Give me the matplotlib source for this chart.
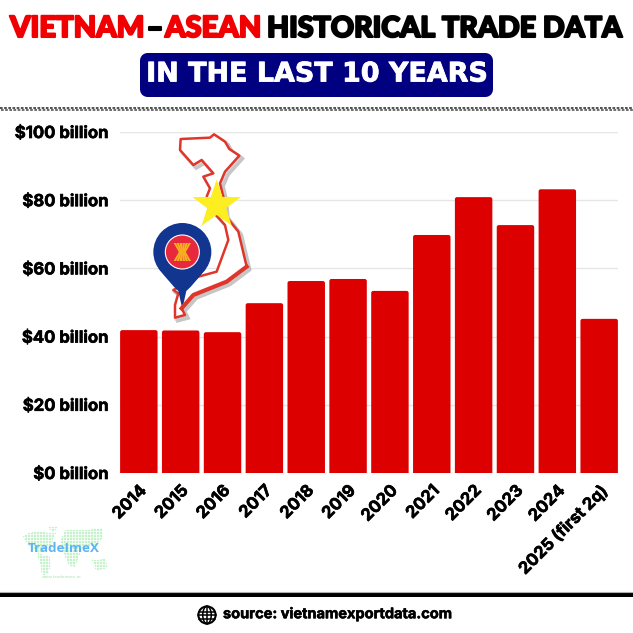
import numpy as np
import matplotlib
matplotlib.use("Agg")
import matplotlib.pyplot as plt
import matplotlib.patheffects as pe
from matplotlib.patches import Circle, Ellipse, FancyBboxPatch, PathPatch, Polygon, Rectangle
from matplotlib.path import Path

years = ["2014", "2015", "2016", "2017", "2018", "2019", "2020", "2021", "2022", "2023", "2024", "2025 (first 2q)"]
trade_billion = [41.9, 41.8, 41.3, 49.8, 56.3, 56.9, 53.4, 69.8, 80.9, 72.7, 83.2, 45.2]
y_ticks = [0, 20, 40, 60, 80, 100]
y_labels = ["$0 billion", "$20 billion", "$40 billion", "$60 billion", "$80 billion", "$100 billion"]

RED = "#dd0000"
W = H = 633
LABEL_FONT = ["Inter", "Lato", "DejaVu Sans"]
TITLE_FONT = ["Lato", "DejaVu Sans"]

fig = plt.figure(figsize=(6.33, 6.33), dpi=100, facecolor="white")

bg = fig.add_axes([0, 0, 1, 1], zorder=0)
bg.set_xlim(0, W); bg.set_ylim(H, 0); bg.axis("off")
top = fig.add_axes([0, 0, 1, 1], zorder=3)
top.set_xlim(0, W); top.set_ylim(H, 0); top.axis("off"); top.patch.set_alpha(0)

# chart
ax = fig.add_axes([120 / W, 1 - 473 / H, 498 / W, 341 / H], zorder=1)
ax.patch.set_alpha(0)
xpos = np.arange(len(years))
bar_w = 0.895
for xi, val in zip(xpos, trade_billion):
    ax.add_patch(FancyBboxPatch((xi - bar_w / 2, -3), bar_w, val + 3,
                                boxstyle="round,pad=0,rounding_size=0.05", mutation_aspect=12.3,
                                fc=RED, ec="none", zorder=2))
ax.set_xlim(-0.45, len(years) - 0.55)
ax.set_ylim(0, 100)
lab_fx = [pe.withStroke(linewidth=0.45, foreground="black")]
ax.set_yticks(y_ticks, y_labels, fontsize=12, fontweight="bold", family=LABEL_FONT)
ax.set_xticks(xpos, years, rotation=45, ha="right", rotation_mode="anchor",
              fontsize=12, fontweight="bold", family=LABEL_FONT)
for t in ax.get_xticklabels() + ax.get_yticklabels():
    t.set_path_effects(lab_fx)
ax.tick_params(axis="y", length=0, pad=8.6)
ax.tick_params(axis="x", length=0, pad=7)
ax.grid(axis="y", color="#e6e6e6", lw=1, zorder=0)
for s in ax.spines.values():
    s.set_visible(False)

# title
title_fx = [pe.withStroke(linewidth=1.5, foreground="black")]
red_fx = [pe.withStroke(linewidth=1.5, foreground="#f00000")]
rk = dict(fontsize=21, fontweight="black", family=TITLE_FONT, va="center", ha="left")
bk = dict(fontsize=20.6, fontweight="black", family=TITLE_FONT, va="center", ha="left")
bg.text(10, 29, "VIETNAM", color="#f00000", path_effects=red_fx, **rk)
bg.text(147, 29, "–", color="black", path_effects=title_fx, **bk)
bg.text(165, 29, "ASEAN", color="#f00000", path_effects=red_fx, **rk)
bg.text(267, 29, "HISTORICAL TRADE DATA", color="black", path_effects=title_fx, **bk)

# banner
bg.add_patch(FancyBboxPatch((144, 57), 345, 36, boxstyle="round,pad=0,rounding_size=4",
                            fc="#000080", ec="#000080", lw=5.76, joinstyle="round"))
bg.text(316.5, 74.5, "IN THE LAST 10 YEARS", color="white", fontsize=19.4, fontweight="bold",
        family="DejaVu Sans", ha="center", va="center",
        path_effects=[pe.withStroke(linewidth=0.6, foreground="white")])

# dashed rule
bg.plot([0, W], [108, 108], color="#333333", lw=1.2, dashes=(1.6, 0.9))
bg.plot([0.9, W], [110, 110], color="#555555", lw=1.2, dashes=(1.6, 0.9))

# footer
bg.add_patch(Rectangle((0, 592.5), W, 4.5, fc="black", ec="none"))
bg.plot([0, W], [592, 592], color="#b0b0b0", lw=0.8)
bg.text(223, 614, "source: vietnamexportdata.com", fontsize=10.5, fontweight="bold",
        family=LABEL_FONT, va="center", ha="left", color="black",
        path_effects=[pe.withStroke(linewidth=0.4, foreground="black")])
gx, gy = 207, 615
bg.add_patch(Circle((gx, gy), 8.6, fc="none", ec="black", lw=1.5))
bg.add_patch(Ellipse((gx, gy), 8.5, 17.2, fc="none", ec="black", lw=1.1))
bg.plot([gx, gx], [gy - 8.6, gy + 8.6], color="black", lw=1.1)
for dy, half in [(-3.5, 7.8), (0, 8.6), (3.5, 7.8)]:
    bg.plot([gx - half, gx + half], [gy + dy, gy + dy], color="black", lw=1.1)


# Vietnam map (zoom coordinates -> pixels)
def z(pts):
    a = np.array(pts, float)
    return np.c_[110 + a[:, 0] / 3, 125 + a[:, 1] / 3]


vn_outer = [(212, 42), (300, 38), (312, 28), (345, 50), (358, 72), (388, 92), (345, 140), (330, 175),
            (340, 215), (345, 270), (385, 320), (410, 425), (350, 470), (250, 510), (215, 550),
            (225, 570), (195, 578), (195, 540), (205, 505), (190, 495)]
vn_inner = [(265, 455), (320, 440), (355, 345), (345, 300), (300, 250), (290, 215), (300, 190), (280, 155),
            (310, 145), (275, 105), (250, 120), (210, 75), (212, 42)]
vn = z(vn_outer + vn_inner)
top.add_patch(Polygon(vn + [3, 3], closed=True, fc="none", ec="#a0a0a0", lw=2.6, alpha=0.6))
top.add_patch(Polygon(vn + [1.5, 1.5], closed=True, fc="none", ec="#c8c8c8", lw=2.6, alpha=0.6))
top.add_patch(Polygon(vn, closed=True, fc="white", ec="#e0352b", lw=1.8, joinstyle="round"))
top.plot(*z([(410, 425), (350, 470), (250, 510), (215, 550)]).T, color="#e0352b", lw=3)

# star
sc = z([(320, 240)])[0]
ang = np.deg2rad(-90 + 36 * np.arange(10))
rad = np.where(np.arange(10) % 2 == 0, 25.5, 10)
top.add_patch(Polygon(np.c_[sc[0] + rad * np.cos(ang), sc[1] + rad * np.sin(ang)], fc="#fdee21", ec="none"))

# pin
pc = z([(217, 381)])[0]
tip = z([(217, 552)])[0]
pin_blue = "#12358f"
cx, cy = pc
pin = Path([(cx - 24, cy + 16), (cx - 12, cy + 32), (cx - 4, tip[1] - 18), tip,
            (cx + 4, tip[1] - 18), (cx + 12, cy + 32), (cx + 24, cy + 16), (cx - 24, cy + 16)],
           [Path.MOVETO, Path.CURVE3, Path.CURVE3, Path.LINETO, Path.LINETO, Path.CURVE3, Path.CURVE3, Path.CLOSEPOLY])
top.add_patch(PathPatch(pin, fc=pin_blue, ec="none"))
top.add_patch(Circle(pc, 29, fc=pin_blue, ec="none"))
top.add_patch(Circle(pc, 17, fc="#e8283c", ec="white", lw=0.8))
for off in (-7.5, -4.5, -1.5, 1.5, 4.5, 7.5):
    top.add_patch(Polygon([(cx + off - 1.2, cy - 9), (cx + off + 1.2, cy - 9),
                           (cx + off * 0.35 + 0.9, cy), (cx + off + 1.2, cy + 9),
                           (cx + off - 1.2, cy + 9), (cx + off * 0.35 - 0.9, cy)],
                          fc="#f5b01e", ec="none"))

# logo: dotted world map
lands = [
    [(22, 535), (33, 531), (55, 532), (50, 545), (38, 553), (28, 545)],
    [(37, 553), (50, 556), (48, 572), (42, 575)],
    [(47, 526), (57, 526), (52, 532)],
    [(60, 540), (64, 530), (101, 528), (102, 538), (92, 546), (82, 546), (74, 566), (68, 564), (62, 550)],
    [(92, 560), (104, 558), (107, 567), (96, 570)],
]
gxx, gyy = np.meshgrid(np.arange(20, 110, 1.5), np.arange(524, 578, 1.5))
gp = np.c_[gxx.ravel(), gyy.ravel()]
for land in lands:
    pts = gp[Path(land).contains_points(gp)]
    bg.scatter(pts[:, 0], pts[:, 1], s=1.0, color="#c4f2ca", linewidths=0)
bg.text(63.5, 549, "TradeImeX", color="#5cb4f5", fontsize=9.6, fontweight="bold",
        family=["Open Sans", "DejaVu Sans"], ha="center", va="center")
bg.text(62, 577, "www.tradeimex.in", color="#a8e5b0", fontsize=3.2, ha="center", va="center")

fig.savefig("out.png", dpi=100)
